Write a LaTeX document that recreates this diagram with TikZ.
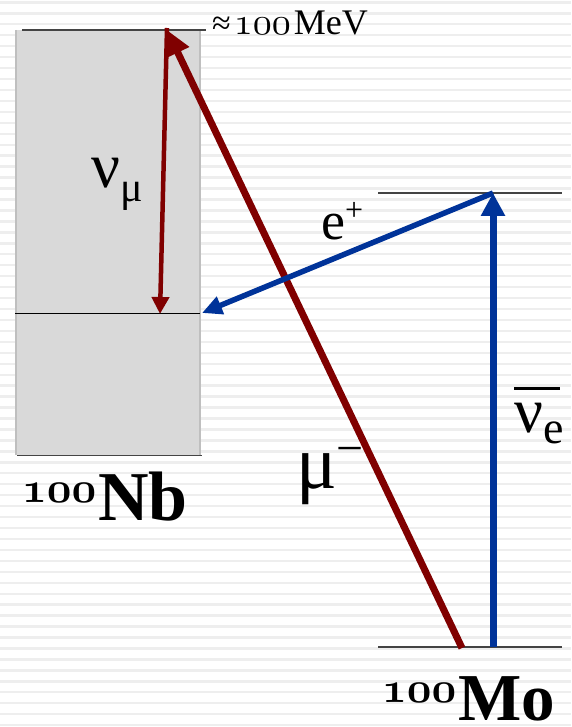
\documentclass[tikz,border=0pt]{standalone}
\usepackage{fontspec}
\usepackage{graphicx}
\newfontfamily\lblfont{Liberation Serif}
\definecolor{murred}{HTML}{800000}
\definecolor{nublue}{HTML}{003399}
\definecolor{boxgrey}{HTML}{D9D9D9}
\definecolor{boxedge}{HTML}{BFBFBF}
\definecolor{stripegrey}{HTML}{EEEEEE}
\definecolor{levelgrey}{HTML}{444444}
\usetikzlibrary{arrows.meta}
\newcommand{\setsz}[1]{\fontsize{#1}{#1}\selectfont}
% old style digits, drawn at 10pt and scaled
\newcommand{\osnum}[2]{\scalebox{#1}{\setsz{10}\usefont{OML}{cmm}{m}{it}#2}}
\newcommand{\osnumb}[2]{\scalebox{#1}{\setsz{10}\usefont{OML}{cmm}{b}{it}#2}}

\begin{document}
\begin{tikzpicture}[x=1pt, y=-1pt,
  level/.style={draw=levelgrey, line width=1.8pt},
  lbl/.style={inner sep=0pt, anchor=base west, font=\lblfont},
  muline/.style={draw=murred, line width=7pt, -{Triangle[length=25pt, width=24pt]}},
  nuline/.style={draw=murred, line width=4.5pt, -{Triangle[length=17pt, width=17pt]}},
  nubarline/.style={draw=nublue, line width=7pt, -{Triangle[length=23pt, width=23pt]}},
  eline/.style={draw=nublue, line width=5.5pt, -{Triangle[length=20pt, width=18pt]}},
]
\useasboundingbox (0,0) rectangle (571,727);

% striped background
\foreach \k in {0,...,66}
  \fill[stripegrey] (0,{1.2+10.95*\k}) rectangle (571,{3.6+10.95*\k});

% 100Nb band
\fill[boxgrey] (15,30) rectangle (200,455);
\draw[boxedge, line width=2pt] (16,30) -- (16,455) (199.5,30) -- (199.5,455);
\draw[level] (22,30) -- (206,30);
\draw[black, line width=1.3pt] (15,313.5) -- (200,313.5);
\draw[level] (17,455.5) -- (202,455.5);

% levels on the right
\draw[level, line width=1.5pt] (378,193) -- (562,193);
\draw[level, line width=1.5pt] (378,647) -- (562,647);

% end points
\coordinate (nbtop) at (167,30);
\coordinate (nbmid) at (160,314);
\coordinate (nbedge) at (202,313);
\coordinate (xtop) at (493,193);
\coordinate (mobase) at (493,647);
\coordinate (mustart) at (462,648);

% transitions
\draw[muline] (mustart) -- (nbtop);
\draw[nuline] ([yshift=2pt]nbtop) -- (nbmid);
\draw[eline] (xtop) -- (nbedge);
\draw[nubarline] (mobase) -- (xtop);

% labels
\node[lbl] (energy) at (212,35)
  {\setsz{34}≈\kern3pt\osnum{3.8}{100}\kern3pt\setsz{36}MeV};
\node[lbl] (numu) at (91,188)
  {\setsz{64}ν\raisebox{-14pt}{\setsz{42}μ}};
\node[lbl] (eplus) at (321,240)
  {\setsz{54}e\raisebox{20pt}{\setsz{32}+}};
\node[lbl] (nuebar) at (514,432)
  {\setsz{64}\rlap{\rule[42pt]{46pt}{3pt}}ν\raisebox{-11pt}{\setsz{46}e}};
\node[lbl] (muminus) at (296,488)
  {\setsz{76}μ\raisebox{24pt}{\setsz{48}−}};
\node[lbl] (nb) at (22,520)
  {\raisebox{18pt}{\osnumb{4.3}{100}}\kern2pt\setsz{70}\bfseries Nb};
\node[lbl] (mo) at (382,720)
  {\raisebox{18pt}{\osnumb{4.3}{100}}\kern2pt\setsz{67}\bfseries Mo};

\end{tikzpicture}
\end{document}
